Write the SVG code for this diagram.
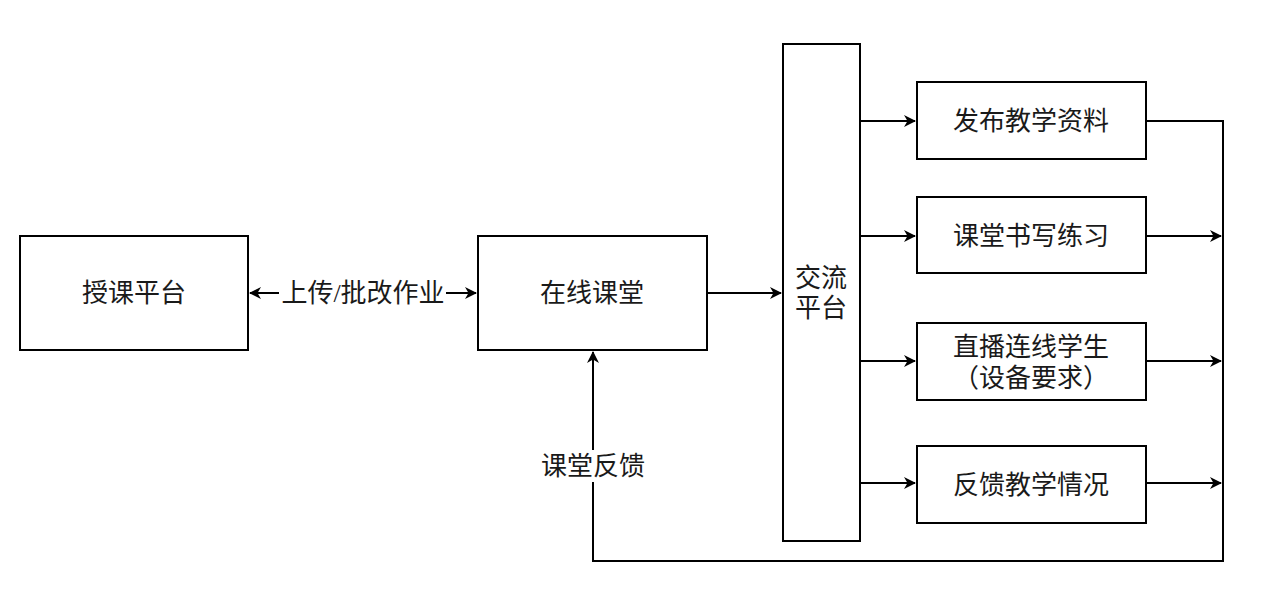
<svg xmlns="http://www.w3.org/2000/svg" width="1269" height="594" viewBox="0 0 1269 594">
<style>
.box{fill:#fff;stroke:#000;stroke-width:2}
.t{font-family:"Liberation Serif","Noto Sans CJK SC",serif;font-size:26px;fill:#1a1a1a;text-anchor:middle;dominant-baseline:central}
.c{fill:none;stroke:#000;stroke-width:2}
</style>
<defs>
<marker id="a" viewBox="0 0 12 12" refX="11" refY="6" markerWidth="12" markerHeight="12" markerUnits="userSpaceOnUse" orient="auto-start-reverse">
<path d="M0,0 L12,6 L0,12 L3.5,6 z" fill="#000"/>
</marker>
</defs>
<g id="connectors">
<path class="c" d="M250,293 H279" marker-start="url(#a)"/>
<path class="c" d="M446,293 H476" marker-end="url(#a)"/>
<path class="c" d="M707,293 H781" marker-end="url(#a)"/>
<path class="c" d="M860,121 H915" marker-end="url(#a)"/>
<path class="c" d="M860,236 H915" marker-end="url(#a)"/>
<path class="c" d="M860,361 H915" marker-end="url(#a)"/>
<path class="c" d="M860,483 H915" marker-end="url(#a)"/>
<path class="c" d="M1146,121 H1223 V561 H593 V482"/>
<path class="c" d="M593,450 V352" marker-end="url(#a)"/>
<path class="c" d="M1146,236 H1221" marker-end="url(#a)"/>
<path class="c" d="M1146,361 H1221" marker-end="url(#a)"/>
<path class="c" d="M1146,483 H1221" marker-end="url(#a)"/>
<text class="t" x="363" y="293">上传/批改作业</text>
<text class="t" x="593" y="466">课堂反馈</text>
</g>
<g id="n1"><rect class="box" x="20" y="236" width="228" height="114"/><text class="t" x="134" y="293">授课平台</text></g>
<g id="n2"><rect class="box" x="478" y="236" width="229" height="114"/><text class="t" x="592" y="293">在线课堂</text></g>
<g id="n3"><rect class="box" x="783" y="44" width="77" height="497"/><text class="t" x="821" y="278">交流</text><text class="t" x="821" y="308">平台</text></g>
<g id="n4"><rect class="box" x="917" y="82" width="229" height="77"/><text class="t" x="1031" y="121">发布教学资料</text></g>
<g id="n5"><rect class="box" x="917" y="197" width="229" height="76"/><text class="t" x="1031" y="236">课堂书写练习</text></g>
<g id="n6"><rect class="box" x="917" y="323" width="229" height="77"/><text class="t" x="1031" y="347">直播连线学生</text><text class="t" x="1031" y="378">（设备要求）</text></g>
<g id="n7"><rect class="box" x="917" y="446" width="229" height="77"/><text class="t" x="1031" y="485">反馈教学情况</text></g>
</svg>
